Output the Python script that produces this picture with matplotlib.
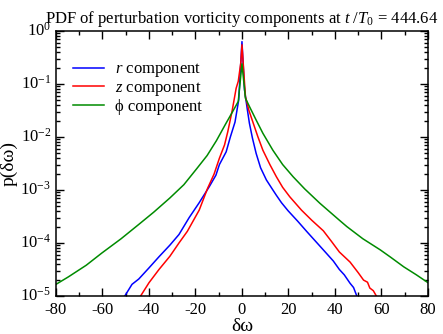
import matplotlib
matplotlib.use('Agg')
import matplotlib.pyplot as plt
import matplotlib.transforms as mtransforms
import numpy as np
from matplotlib.ticker import MultipleLocator, LogLocator, NullFormatter

# log10 of the pdf
r_dw = [-50.4, -47.3, -44.4, -40.0, -35.7, -31.0, -27.1, -22.7, -18.4, -14.1, -11.2, -9.7, -6.8, -5.0,
        -3.0, -1.4, 0.0, 1.1, 2.2, 3.2, 4.5, 6.1, 8.0, 10.5, 13.3, 14.8, 17.0, 19.8, 24.0, 27.8, 31.5, 35.0,
        39.3, 41.9, 44.0, 46.5, 48.0, 49.4]
r_logp = [-5.0, -4.78, -4.68, -4.47, -4.26, -4.04, -3.84, -3.52, -3.24, -2.94, -2.72, -2.52, -2.28, -2.0,
          -1.72, -1.3, -0.2, -1.11, -1.45, -1.74, -2.02, -2.31, -2.58, -2.81, -3.0, -3.1, -3.24, -3.39, -3.59,
          -3.78, -3.96, -4.13, -4.34, -4.5, -4.6, -4.76, -4.84, -5.0]

z_dw = [-43.6, -40.0, -35.7, -31.0, -27.1, -23.5, -18.4, -14.8, -12.0, -9.7, -7.5, -6.1, -4.2, -2.5,
        -1.6, -0.5, 0.0, 1.5, 3.0, 4.7, 6.8, 9.0, 12.0, 14.8, 17.5, 20.6, 25.6, 30.0, 35.0, 38.5,
        41.9, 46.5, 50.0, 52.3, 54.0, 55.0, 56.5, 57.8]
z_logp = [-5.0, -4.75, -4.5, -4.25, -4.0, -3.78, -3.38, -2.97, -2.7, -2.4, -2.15, -1.9, -1.5, -1.08,
          -0.95, -0.6, -0.26, -1.24, -1.5, -1.72, -1.99, -2.25, -2.52, -2.75, -2.95, -3.13, -3.38, -3.57, -3.77,
          -3.97, -4.17, -4.36, -4.56, -4.7, -4.74, -4.85, -4.9, -5.0]

phi_dw = [-80.0, -74.7, -67.0, -60.3, -52.0, -44.4, -38.0, -31.0, -25.0, -19.5, -15.0, -11.0, -7.1, -4.0,
          -1.6, 0.0, 1.5, 3.5, 6.1, 9.0, 13.3, 17.5, 22.0, 27.0, 33.5, 41.9, 45.1, 52.0,
          59.5, 64.0, 69.6, 75.0, 80.4]
phi_logp = [-4.78, -4.64, -4.42, -4.19, -3.92, -3.65, -3.42, -3.15, -2.9, -2.6, -2.35, -2.07, -1.76, -1.52,
            -1.33, -0.62, -1.27, -1.45, -1.68, -1.93, -2.25, -2.52, -2.75, -2.98, -3.25, -3.57, -3.69, -3.92,
            -4.13, -4.27, -4.45, -4.6, -4.76]

series = [
    (r_dw, r_logp, '#0000ff', r'$\it{r}$ component'),
    (z_dw, z_logp, '#ff0000', r'$\it{z}$ component'),
    (phi_dw, phi_logp, '#008b00', '\u03d5 component'),
]

plt.rcParams['font.family'] = ['Liberation Serif', 'DejaVu Serif']
plt.rcParams['mathtext.fontset'] = 'custom'
plt.rcParams['mathtext.rm'] = 'Liberation Serif'
plt.rcParams['mathtext.it'] = 'Liberation Serif:italic'
plt.rcParams['axes.unicode_minus'] = False

fig = plt.figure(figsize=(4.43, 3.34), dpi=100)
ax = fig.add_axes([0.1264, 0.1138, 0.8396, 0.7934])

for dw, logp, color, label in series:
    ax.semilogy(dw, 10.0 ** np.array(logp), color=color, lw=1.1, label=label)

ax.set_xlim(-80, 80)
ax.set_ylim(1e-5, 1)
ax.xaxis.set_major_locator(MultipleLocator(20))
ax.xaxis.set_minor_locator(MultipleLocator(10))
ax.set_yticks([1e-5, 1e-4, 1e-3, 1e-2, 1e-1, 1])
ax.set_yticklabels([r'10$^{%d}$' % e for e in range(-5, 1)])
ax.yaxis.set_minor_locator(LogLocator(base=10, subs=np.arange(2, 10), numticks=20))
ax.yaxis.set_minor_formatter(NullFormatter())

ax.tick_params(which='both', direction='in', top=True, right=True, labelsize=12, width=1.0)
ax.tick_params(which='major', length=5.5)
ax.tick_params(which='minor', length=3)
ax.tick_params(axis='x', which='major', pad=4.5)
for s in ax.spines.values():
    s.set_linewidth(1.1)

# nudge the y labels up a little, so 10^-5 clears the -80
shift = mtransforms.ScaledTranslation(0, 0.025, fig.dpi_scale_trans)
for lab in ax.get_yticklabels():
    lab.set_transform(lab.get_transform() + shift)

ax.set_xlabel('\u03b4\u03c9', fontsize=14, labelpad=0)
ax.set_ylabel('p(\u03b4\u03c9)', fontsize=14, labelpad=2)
ax.set_title(r'PDF of perturbation vorticity components at $\it{t}$ /$\it{T}_0$ = 444.64', fontsize=12, pad=6)

ax.legend(loc='upper left', frameon=False, fontsize=12, handlelength=1.9, handletextpad=0.65,
          labelspacing=0.05, borderpad=0, borderaxespad=0, bbox_to_anchor=(0.045, 0.885))

fig.savefig('out.png', dpi=100)
